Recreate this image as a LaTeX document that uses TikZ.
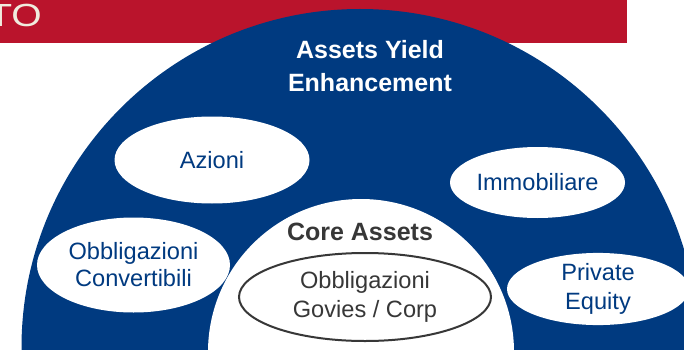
\documentclass[tikz,border=0pt]{standalone}
\usepackage{fontspec}
\setmainfont{Liberation Sans}
\newfontfamily\titlefont[FakeStretch=1.22]{Liberation Sans}
\usetikzlibrary{shapes.geometric}
\definecolor{domeblue}{RGB}{0,58,128}
\definecolor{barred}{RGB}{186,20,44}
\definecolor{coregray}{RGB}{55,55,55}
\definecolor{cream}{RGB}{240,236,222}
\begin{document}
\begin{tikzpicture}[x=1pt,y=-1pt,
  bubble/.style={ellipse, fill=white, inner sep=0pt, text=domeblue, align=center,
    font=\fontsize{23.6}{28}\selectfont},
  heading/.style={inner sep=0pt, align=center, font=\bfseries\fontsize{25}{33}\selectfont}]
\useasboundingbox (0,0) rectangle (684,350);
\begin{scope}
\clip (0,0) rectangle (684,350);
\fill[white] (0,0) rectangle (684,350);
\fill[barred] (0,0) rectangle (627,43);
\node[inner sep=0pt, anchor=base east, text=cream, font=\titlefont\fontsize{32}{32}\selectfont] (title) at (42,27) {TO};
\fill[domeblue] (360,347.5) circle[radius=338.5pt];
\fill[white] (361,352) circle[radius=153pt];
\node[heading, text=white] (yield) at (370,66.5) {Assets Yield\\Enhancement};
\node[bubble, minimum width=195pt, minimum height=87pt] (azioni) at (212,160) {Azioni};
\node[bubble, minimum width=175pt, minimum height=71pt] (immo) at (537.5,182.5) {Immobiliare};
\node[bubble, minimum width=193pt, minimum height=95pt, font=\fontsize{23.6}{27}\selectfont] (conv) at (133.5,265) {Obbligazioni\\Convertibili};
\node[bubble, minimum width=182pt, minimum height=70pt, font=\fontsize{23.6}{29}\selectfont] (pe) at (598,289) {Private\\Equity};
\node[inner sep=0pt, anchor=base, text=coregray, font=\bfseries\fontsize{25}{30}\selectfont] (core) at (360,240) {Core Assets};
\node[ellipse, draw=coregray, line width=2pt, fill=white, inner sep=0pt, text=coregray, align=center,
  minimum width=252pt, minimum height=88pt, font=\fontsize{23.6}{29}\selectfont] (govies) at (365,297) {Obbligazioni\\Govies / Corp};
\end{scope}
\end{tikzpicture}
\end{document}
